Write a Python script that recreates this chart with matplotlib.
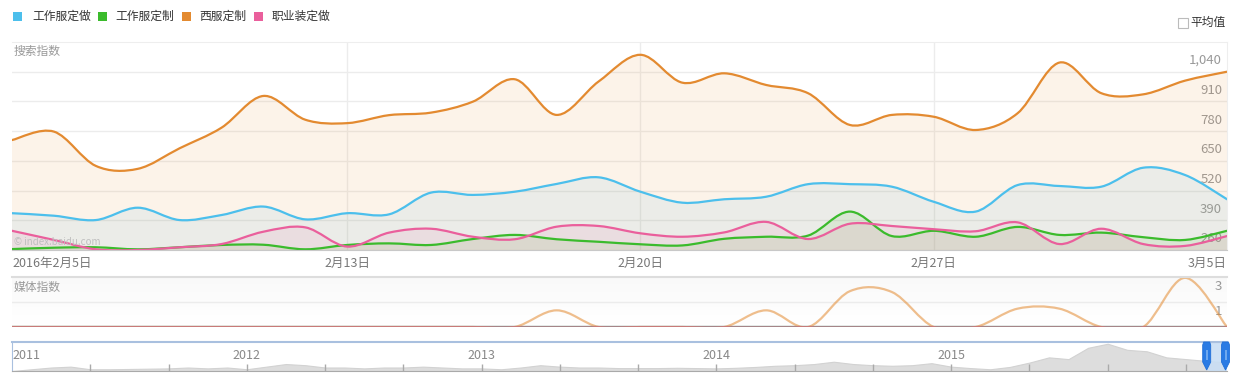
import numpy as np
import matplotlib
matplotlib.use('Agg')
import matplotlib.pyplot as plt
from matplotlib.path import Path
from matplotlib.patches import PathPatch, Rectangle, Polygon

plt.rcParams['font.family'] = ['Noto Sans CJK SC', 'DejaVu Sans']

W, H = 1233, 375

# 数据: 2016-02-05 ~ 2016-03-05 每日
series_names = ['工作服定做', '工作服定制', '西服定制', '职业装定做']
series_colors = ['#4cbfec', '#3bbb2c', '#e38a30', '#ea5f9c']

search_gzfdz = [421, 410, 391, 445, 391, 413, 450, 394, 421, 416, 511, 501, 515, 549, 578,
                515, 467, 482, 493, 548, 548, 537, 471, 428, 544, 540, 537, 620, 588, 482]
search_gzfdzhi = [264, 270, 272, 263, 272, 282, 283, 263, 282, 289, 282, 308, 326, 307, 296,
                  285, 280, 309, 318, 323, 428, 321, 344, 318, 361, 326, 336, 316, 304, 344]
search_xfdz = [741, 778, 628, 615, 705, 795, 934, 830, 815, 850, 861, 909, 1007, 851, 997,
               1114, 992, 1033, 982, 946, 807, 851, 843, 785, 858, 1080, 946, 941, 1001, 1040]
search_zyzdz = [344, 304, 263, 260, 272, 286, 340, 359, 275, 336, 353, 318, 307, 362, 365,
                333, 318, 337, 383, 308, 375, 365, 351, 342, 381, 286, 353, 286, 278, 321]

media_gzfdz = [0] * 30
media_gzfdzhi = [0] * 30
media_xfdz = [0, 0, 0, 0, 0, 0, 0, 0, 0, 0, 0, 0, 0, 2.0, 0,
              0, 0, 0, 2.0, 0, 4.3, 4.2, 0, 0, 2.2, 2.2, 0, 0, 5.9, 0]
media_zyzdz = [0] * 30

search_ticks = [260, 390, 520, 650, 780, 910, 1040]
search_tick_labels = ['260', '390', '520', '650', '780', '910', '1,040']
date_ticks = [0, 8, 15, 22, 29]
date_labels = ['2016年2月5日', '2月13日', '2月20日', '2月27日', '3月5日']

# 导航条: 2011-01 ~ 2016-03 月度整体趋势(相对高度)
nav_values = [0, 6, 12, 15, 6, 6, 7, 8, 9, 12, 9, 12,
              6, 15, 24, 20, 12, 12, 9, 12, 12, 15, 12, 9,
              9, 6, 12, 20, 15, 12, 12, 10, 10, 10, 11, 10,
              9, 11, 14, 18, 20, 24, 32, 24, 20, 18, 20, 27,
              15, 10, 6, 14, 29, 47, 41, 80, 94, 73, 68, 47,
              41, 35, 30]
nav_years = ['2011', '2012', '2013', '2014', '2015']


def box(x0, y0, x1, y1):
    return [x0 / W, 1 - y1 / H, (x1 - x0) / W, (y1 - y0) / H]


def fx(x):
    return x / W


def fy(y):
    return 1 - y / H


def spline(xs, ys):
    # Catmull-Rom 平滑, 转成三次贝塞尔
    p = [(float(a), float(b)) for a, b in zip(xs, ys)]
    n = len(p)
    verts = [p[0]]
    codes = [Path.MOVETO]
    for i in range(n - 1):
        p0 = p[i - 1] if i > 0 else p[i]
        p1 = p[i]
        p2 = p[i + 1]
        p3 = p[i + 2] if i + 2 < n else p[i + 1]
        c1 = (p1[0] + (p2[0] - p0[0]) / 6, p1[1] + (p2[1] - p0[1]) / 6)
        c2 = (p2[0] - (p3[0] - p1[0]) / 6, p2[1] - (p3[1] - p1[1]) / 6)
        verts += [c1, c2, p2]
        codes += [Path.CURVE4] * 3
    return verts, codes


def draw_area(ax, xs, ys, base, color, lw=1.6, fill_alpha=0.1, line_alpha=1.0, z=2):
    verts, codes = spline(list(xs), list(ys))
    fverts = verts + [(xs[-1], base), (xs[0], base), (xs[0], base)]
    fcodes = codes + [Path.LINETO, Path.LINETO, Path.CLOSEPOLY]
    if fill_alpha > 0:
        ax.add_patch(PathPatch(Path(fverts, fcodes), facecolor=color, edgecolor='none',
                               alpha=fill_alpha, zorder=z))
    ax.add_patch(PathPatch(Path(verts, codes), facecolor='none', edgecolor=color,
                           lw=lw, alpha=line_alpha, zorder=z + 0.5, capstyle='round'))


fig = plt.figure(figsize=(W / 100, H / 100), dpi=100)
fig.patch.set_facecolor('white')

days = np.arange(len(search_xfdz))

# ---------------- 搜索指数 ----------------
ax = fig.add_axes(box(12, 42, 1227, 250))
ax.set_xlim(0, 29)
ax.set_ylim(260, 1170)
ax.set_yticks(search_ticks)
ax.set_yticklabels([])
ax.set_xticks([8, 15, 22])
ax.set_xticklabels([])
ax.tick_params(length=0)
ax.grid(True, color='#ececec', lw=1)
ax.set_axisbelow(True)
ax.spines['left'].set_visible(False)
ax.spines['top'].set_color('#eeeeee')
ax.spines['right'].set_color('#eeeeee')
ax.spines['bottom'].set_color('#c8c8c8')

search = [search_gzfdz, search_gzfdzhi, search_xfdz, search_zyzdz]
for vals, c in zip(search, series_colors):
    draw_area(ax, days, vals, 260, c)

for v, lbl in zip(search_ticks, search_tick_labels):
    ax.annotate(lbl, xy=(0.996, v), xycoords=('axes fraction', 'data'),
                xytext=(0, 8), textcoords='offset points', ha='right', va='center',
                fontsize=9.5, color='#999999', zorder=1)

ax.text(2 / 1215, 0.955, '搜索指数', transform=ax.transAxes, ha='left', va='center',
        fontsize=8.5, color='#999999')
ax.text(2 / 1215, 0.04, '© index.baidu.com', transform=ax.transAxes, ha='left',
        va='center', fontsize=7, color='#bfbfbf', zorder=6)

# 日期标签
for d, lbl in zip(date_ticks, date_labels):
    ha = 'center'
    if d == 0:
        ha = 'left'
    elif d == 29:
        ha = 'right'
    fig.text(fx(12 + d * 1215 / 29), fy(263), lbl, ha=ha, va='center',
             fontsize=9, color='#777777')

# ---------------- 媒体指数 ----------------
ax2 = fig.add_axes(box(12, 277, 1227, 327))
ax2.set_xlim(0, 29)
ax2.set_ylim(0, 6)
grad = np.linspace(0, 1, 50).reshape(-1, 1)
ax2.imshow(grad, extent=(0, 29, 0, 6), aspect='auto', cmap='Greys',
           vmin=0, vmax=20, zorder=0, origin='lower')
ax2.axhline(3, color='#ececec', lw=1, zorder=1)
ax2.set_xticks([])
ax2.set_yticks([])
for s in ['left', 'right', 'bottom']:
    ax2.spines[s].set_visible(False)
ax2.spines['top'].set_color('#dddddd')
ax2.spines['top'].set_linewidth(1.5)
ax2.axhline(0, color='#999999', lw=1.5, zorder=1)

ax2.text(2 / 1215, 0.8, '媒体指数', transform=ax2.transAxes, ha='left', va='center',
         fontsize=8.5, color='#999999')
ax2.text(0.996, 4.8, '3', ha='right', va='center', fontsize=9.5, color='#999999',
         transform=ax2.get_yaxis_transform(), zorder=1)
ax2.text(0.996, 1.85, '1', ha='right', va='center', fontsize=9.5, color='#999999',
         transform=ax2.get_yaxis_transform(), zorder=1)

media = [media_gzfdz, media_gzfdzhi, media_xfdz, media_zyzdz]
for vals, c in zip(media, series_colors):
    draw_area(ax2, days, vals, 0, c, lw=1.6, fill_alpha=0, line_alpha=0.55)

# ---------------- 导航条 ----------------
ax3 = fig.add_axes(box(12, 342, 1227, 371))
nav_x = 2011 + np.arange(len(nav_values)) / 12
ax3.set_xlim(2011, 2016.175)
ax3.set_ylim(0, 100)
ax3.fill_between(nav_x, nav_values, 0, color='#dddddd', lw=0.8, edgecolor='#d2d2d2',
                 zorder=1)
ax3.spines['right'].set_visible(False)
ax3.spines['top'].set_color('#a9c0df')
ax3.spines['top'].set_linewidth(1.5)
ax3.spines['left'].set_color('#a9c0df')
ax3.spines['bottom'].set_color('#aaaaaa')
ax3.set_yticks([])
ax3.set_xticks(2011 + np.arange(1, 16) / 3)
ax3.set_xticklabels([])
ax3.tick_params(axis='x', direction='in', length=5, color='#aaaaaa', width=1)
for i, yr in enumerate(nav_years):
    ax3.text(2011 + i, 0.52, yr, transform=ax3.get_xaxis_transform(),
             ha='left' if i == 0 else 'center', va='center', fontsize=9, color='#888888')

# 选中范围
sel0, sel1 = 2016 + 35 / 366, 2016 + 64 / 366
ax3.axvspan(sel0, sel1, color='#c9def4', alpha=0.9, zorder=2)
for hx in [1206.7, 1225.5]:
    pts = [(hx - 4, 345), (hx - 3, 342), (hx + 3, 342), (hx + 4, 345), (hx + 4, 362),
           (hx, 370), (hx - 4, 362)]
    fig.patches.append(Polygon([(fx(a), fy(b)) for a, b in pts], closed=True,
                               transform=fig.transFigure, facecolor='#2a7be4',
                               edgecolor='#1f6fd8', lw=0.6, figure=fig))
    fig.patches.append(Rectangle((fx(hx - 1), fy(360)), 2 / W, 10 / H,
                                 transform=fig.transFigure, facecolor='#6fa9ef',
                                 edgecolor='none', figure=fig))

# ---------------- 图例 ----------------
leg_sq = [13, 98, 182, 254]
leg_tx = [32, 115, 199, 272]
for sx, tx, name, c in zip(leg_sq, leg_tx, series_names, series_colors):
    fig.patches.append(Rectangle((fx(sx), fy(21)), 9 / W, 9 / H, transform=fig.transFigure,
                                 facecolor=c, edgecolor='none', figure=fig))
    fig.text(fx(tx), fy(16.5), name, ha='left', va='center', fontsize=8.5, color='#333333')

fig.patches.append(Rectangle((fx(1178), fy(28)), 10 / W, 10 / H, transform=fig.transFigure,
                             facecolor='white', edgecolor='#bbbbbb', lw=0.8, figure=fig))
fig.text(fx(1190), fy(22.5), '平均值', ha='left', va='center', fontsize=8.5, color='#333333')

fig.savefig('out.png', dpi=100, facecolor='white')
